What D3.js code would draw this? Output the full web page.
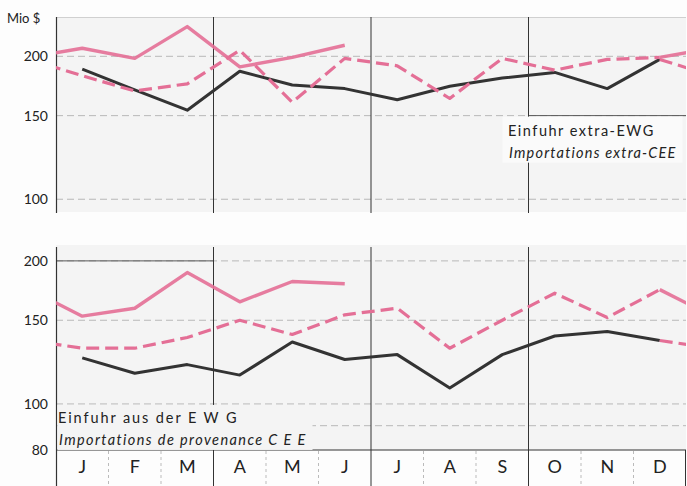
<!DOCTYPE html>
<html>
<head>
<meta charset="utf-8">
<script src="https://cdn.jsdelivr.net/npm/d3@7"></script>
<style>
  html, body { margin: 0; padding: 0; background: #fdfdfd; }
  svg { display: block; }
  text { font-family: "Lato", "Open Sans", sans-serif; fill: #222; }
</style>
</head>
<body>
<svg id="chart" width="687" height="486"></svg>
<script>
// ---------- data ----------
const months = ["J","F","M","A","M","J","J","A","S","O","N","D"];
const quarterStarts = [3, 6, 9];

// Upper panel: Einfuhr extra-EWG / Importations extra-CEE (Mio $)
const extraYear1 = [188, 170, 154, 186, 174, 171, 162, 173, 180, 185, 171, 197];       // black solid
const extraYear2 = [182, 169, 175, 206, 160, 198, 191, 163, 198, 187, 197, 199];       // pink dashed
const extraYear3 = [208, 198, 231, 190, 199, 211, null, null, null, null, null, null]; // pink solid

// Lower panel: Einfuhr aus der EWG / Importations de provenance CEE (Mio $)
const intraYear1 = [125, 116, 121, 115, 135, 124, 127, 108, 127, 139, 142, 136];
const intraYear2 = [131, 131, 138, 150, 140, 154, 159, 131, 150, 171, 152, 174];
const intraYear3 = [153, 159, 189, 164, 181, 179, null, null, null, null, null, null];

const topTicks = [100, 150, 200];
const bottomTicks = [80, 100, 150, 200];
const bottomGrid = [90, 100, 150, 200];

const topLegend = ["Einfuhr extra-EWG", "Importations extra-CEE"];
const bottomLegend = ["Einfuhr aus der E W G", "Importations de provenance C E E"];
const unitLabel = "Mio $";

// ---------- layout ----------
const svg = d3.select("#chart");
const X0 = 56, X1 = 686;
const pink = "#e46f96", dark = "#333";

const x = d3.scaleLinear().domain([-0.5, 11.5]).range([X0, X1]);
const band = d3.scaleBand().domain(d3.range(12)).range([X0, X1]);

const topY = d3.scaleLog().domain([94, 242]).range([212, 17]);
const botY = d3.scaleLog().domain([80, 216]).range([450, 245]);

// background panels
svg.append("rect").attr("x", X0).attr("y", 17).attr("width", X1 - X0).attr("height", 195).attr("fill", "#f4f4f4");
svg.append("rect").attr("x", X0).attr("y", 245).attr("width", X1 - X0).attr("height", 205).attr("fill", "#f4f4f4");

function gridlines(y, vals) {
  const g = svg.append("g");
  g.selectAll("line").data(vals).join("line")
    .attr("x1", X0).attr("x2", X1)
    .attr("y1", d => y(d)).attr("y2", d => y(d))
    .attr("stroke", "#b8b8b8").attr("stroke-width", 1)
    .attr("stroke-dasharray", "7,4");
}
gridlines(topY, topTicks);
gridlines(botY, bottomGrid);
// top line of upper panel
svg.append("line").attr("x1", X0).attr("x2", X1).attr("y1", 17.5).attr("y2", 17.5)
  .attr("stroke", "#d0d0d0").attr("stroke-width", 1);
svg.append("line").attr("x1", X0).attr("x2", x(2.5)).attr("y1", botY(200)).attr("y2", botY(200))
  .attr("stroke", "#555").attr("stroke-width", 1);
// solid box line above top legend
svg.append("line").attr("x1", x(8.5)).attr("x2", X1).attr("y1", topY(150)).attr("y2", topY(150))
  .attr("stroke", "#555").attr("stroke-width", 1);

// vertical lines
function vlines(y0, y1) {
  svg.append("line").attr("x1", X0 + 0.5).attr("x2", X0 + 0.5).attr("y1", y0).attr("y2", y1)
    .attr("stroke", dark).attr("stroke-width", 1.2);
  svg.append("g").selectAll("line").data(quarterStarts).join("line")
    .attr("x1", d => x(d - 0.5)).attr("x2", d => x(d - 0.5))
    .attr("y1", y0).attr("y2", y1)
    .attr("stroke", dark).attr("stroke-width", 1);
}
vlines(17, 213);
vlines(247, 486);

// month band
svg.append("line").attr("x1", X0).attr("x2", X1).attr("y1", 450).attr("y2", 450)
  .attr("stroke", dark).attr("stroke-width", 1.2);
svg.append("g").selectAll("line").data(d3.range(1, 12).filter(i => !quarterStarts.includes(i))).join("line")
  .attr("x1", d => x(d - 0.5)).attr("x2", d => x(d - 0.5))
  .attr("y1", 451).attr("y2", 486)
  .attr("stroke", "#bbb").attr("stroke-width", 1).attr("stroke-dasharray", "3,3");
svg.append("line").attr("x1", X1 - 0.5).attr("x2", X1 - 0.5).attr("y1", 450).attr("y2", 486)
  .attr("stroke", dark).attr("stroke-width", 1);

const xAxis = d3.axisBottom(band).tickSize(0).tickPadding(10).tickFormat(i => months[i]);
const gx = svg.append("g").attr("transform", "translate(0,450)").call(xAxis);
gx.select(".domain").remove();
gx.selectAll("text").style("font-size", "18px").style("font-family", "Lato, sans-serif").attr("fill", "#222");

// y axes
function yAxis(y, vals) {
  const g = svg.append("g").attr("transform", `translate(${X0},0)`)
    .call(d3.axisLeft(y).tickValues(vals).tickFormat(d3.format("d")).tickSize(0).tickPadding(8));
  g.select(".domain").remove();
  g.selectAll("text").style("font-size", "14px").style("font-family", "Lato, sans-serif").attr("fill", "#222");
}
yAxis(topY, topTicks);
yAxis(botY, bottomTicks);
svg.append("text").attr("x", 7).attr("y", 23).style("font-size", "13px").text(unitLabel);

// legends (background rectangles hide lines behind them)
svg.append("rect").attr("x", x(8.5) - 26).attr("y", topY(150) + 1).attr("width", 180).attr("height", 46).attr("fill", "#fafafa");
svg.append("rect").attr("x", X0 + 1.5).attr("y", botY(100) + 1).attr("width", 255).attr("height", 45).attr("fill", "#f4f4f4");

function legend(lines, lx, ly, sp1, sp2) {
  svg.append("text").attr("x", lx).attr("y", ly).style("font-size", "14.5px").style("letter-spacing", sp1 + "px").text(lines[0]);
  svg.append("text").attr("x", lx + 1).attr("y", ly + 22).style("font-size", "14.5px").style("font-style", "italic")
    .style("letter-spacing", sp2 + "px").text(lines[1]);
}
legend(topLegend, 508, 136, 1.5, 1.2);
legend(bottomLegend, 58, 423, 1.9, 1.4);

// ---------- lines ----------
const clipTop = svg.append("clipPath").attr("id", "clipTop");
clipTop.append("rect").attr("x", X0).attr("y", 0).attr("width", X1 - X0).attr("height", 215);
const clipBot = svg.append("clipPath").attr("id", "clipBot");
clipBot.append("rect").attr("x", X0).attr("y", 240).attr("width", X1 - X0).attr("height", 212);

function drawPanel(y, clipId, series) {
  const g = svg.append("g").attr("clip-path", `url(#${clipId})`);
  const line = d3.line().defined(d => d.v != null).x(d => x(d.i)).y(d => y(d.v));
  series.forEach(s => {
    const pts = s.values.map((v, i) => ({ i, v }));
    const full = s.prev ? [{ i: -1, v: s.prev[11] }, ...pts] : pts;
    const segs = [full];
    if (s.prev) segs.push([{ i: 11, v: s.prev[11] }, { i: 12, v: s.values[0] }]);
    segs.forEach(seg => {
      g.append("path").datum(seg).attr("d", line)
        .attr("fill", "none").attr("stroke", s.color).attr("stroke-width", s.width)
        .attr("stroke-linejoin", "round").attr("stroke-linecap", "butt")
        .attr("stroke-dasharray", s.dash || null)
        .attr("opacity", s.opacity || 1);
    });
  });
}

drawPanel(topY, "clipTop", [
  { values: extraYear1, color: dark, width: 3 },
  { values: extraYear2, prev: extraYear1, color: pink, width: 3.2, dash: "13,6" },
  { values: extraYear3, prev: extraYear2, color: pink, width: 3.4, opacity: 0.9 }
]);
drawPanel(botY, "clipBot", [
  { values: intraYear1, color: dark, width: 3 },
  { values: intraYear2, prev: intraYear1, color: pink, width: 3.2, dash: "13,6" },
  { values: intraYear3, prev: intraYear2, color: pink, width: 3.4, opacity: 0.9 }
]);
</script>
</body>
</html>
